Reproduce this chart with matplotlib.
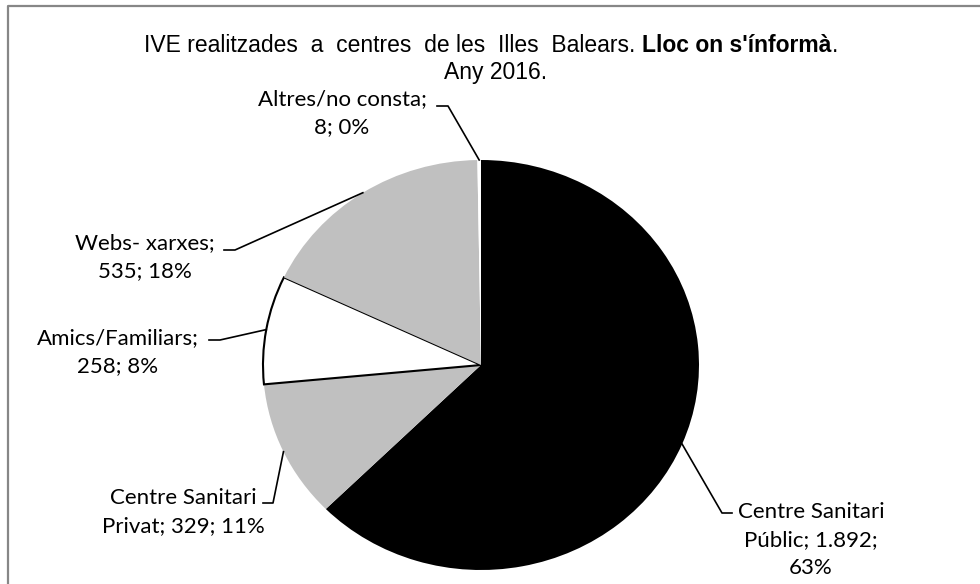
import numpy as np
import matplotlib.pyplot as plt

# dades
names = ['Centre Sanitari Públic', 'Centre Sanitari Privat', 'Amics/Familiars',
         'Webs- xarxes', 'Altres/no consta']
values = [1892, 329, 258, 535, 8]
pcts = [63, 11, 8, 18, 0]
label_lines = [['Centre Sanitari', 'Públic; 1.892;', '63%'],
               ['Centre Sanitari', 'Privat; 329; 11%'],
               ['Amics/Familiars;', '258; 8%'],
               ['Webs- xarxes;', '535; 18%'],
               ['Altres/no consta;', '8; 0%']]
colors = ['#000000', '#c0c0c0', '#ffffff', '#c0c0c0', '#ffffff']

W, H = 980, 584
cx, cy, rx, ry = 481, 365, 218, 205

fig = plt.figure(figsize=(W / 100, H / 100), dpi=100)

# pastis (el·lipse, com a l'original)
pax = fig.add_axes([(cx - rx) / W, (H - cy - ry) / H, 2 * rx / W, 2 * ry / H])
wedges, _ = pax.pie(values, colors=colors, startangle=90, counterclock=False,
                    radius=1, wedgeprops=dict(linewidth=0))
wedges[2].set_edgecolor('black')
wedges[2].set_linewidth(1.5)
for w in wedges:
    w.set_clip_on(False)
pax.set_aspect('auto')
pax.set_xlim(-1, 1)
pax.set_ylim(-1, 1)
pax.axis('off')

# capa en pixels per a textos i linies
ax = fig.add_axes([0, 0, 1, 1])
ax.set_xlim(0, W)
ax.set_ylim(H, 0)
ax.axis('off')

# marc
ax.plot([8, 8, W], [H, 6, 6], color='#878787', lw=1.6, solid_capstyle='butt')

# posicio de les etiquetes (centre primera linia) i colzes de les linies guia
lab_pos = [(811, 512), (183, 498), (118, 338), (145, 243), (342, 99)]
elbows = [(722, 513, 732), (273, 503, 263), (220, 340, 209), (235, 250, 224), (448, 106, 437)]
line_h = 28

vals = np.array(values, dtype=float)
cum = np.cumsum(vals)
mid = np.deg2rad((cum - vals / 2) / vals.sum() * 360)

for i in range(len(values)):
    px = cx + rx * np.sin(mid[i])
    py = cy - ry * np.cos(mid[i])
    ex, ey, ex2 = elbows[i]
    ax.plot([px, ex, ex2], [py, ey, ey], color='black', lw=1.2)
    lx, ly = lab_pos[i]
    for j, s in enumerate(label_lines[i]):
        ax.text(lx, ly + j * line_h, s, fontsize=16, family='Lato',
                ha='center', va='center', color='#000000')

# titol amb part en negreta
r = fig.canvas.get_renderer()
tfont = dict(fontsize=16.5, family='Liberation Sans', va='center')
parts = [('IVE realitzades  a  centres  de les  Illes  Balears.', 'normal'),
         ("Lloc on s'ínformà", 'bold'),
         ('.', 'normal')]
tmp = ax.text(0, 0, 'x x', **tfont)
tmp2 = ax.text(0, 0, 'xx', **tfont)
gap = tmp.get_window_extent(r).width - tmp2.get_window_extent(r).width
tmp.remove()
tmp2.remove()
widths = []
for s, wgt in parts:
    t = ax.text(0, 0, s, fontweight=wgt, **tfont)
    widths.append(t.get_window_extent(r).width)
    t.remove()
total_w = sum(widths) + gap
x0 = 491 - total_w / 2
xs = [x0, x0 + widths[0] + gap, x0 + widths[0] + gap + widths[1]]
for (s, wgt), x in zip(parts, xs):
    ax.text(x, 46, s, fontweight=wgt, ha='left', **tfont)
ax.text(496, 72, 'Any 2016.', ha='center', **tfont)

fig.savefig('out.png', dpi=100)
